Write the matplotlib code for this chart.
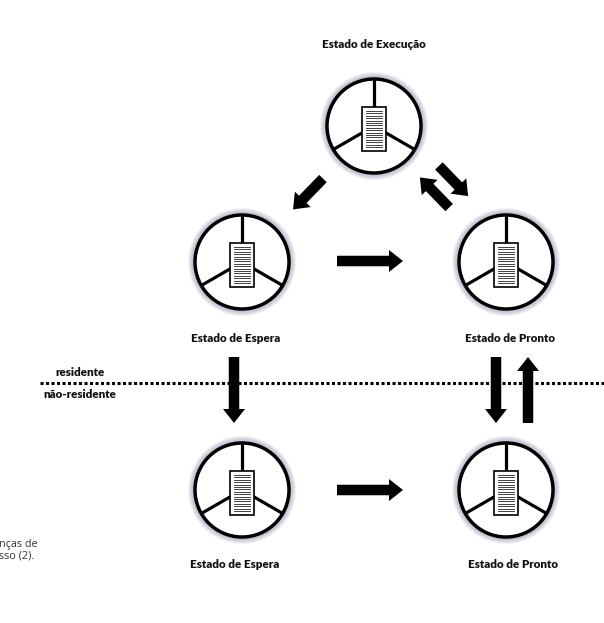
import numpy as np
import matplotlib
matplotlib.use("Agg")
import matplotlib.pyplot as plt
from matplotlib.patches import Circle, Rectangle, FancyArrow

# ---- data ----
node_labels = ["Estado de Execução", "Estado de Espera", "Estado de Pronto",
               "Estado de Espera", "Estado de Pronto"]
edges = [(0, 1), (2, 0), (0, 2), (1, 2), (1, 3), (2, 4), (4, 2), (3, 4)]
region_labels = ["residente", "não-residente"]
caption_lines = ["nças de", "sso (2)."]

# ---- layout (pixels, y down) ----
node_xy = [(374, 126), (242, 262), (506, 262), (242, 490), (506, 490)]
label_xy = [(374, 45), (236, 338), (510, 338), (235, 564), (513, 564)]
edge_len = [43, 42, 42, 66, 66, 66, 66, 66]
edge_off = [(0, 0), (-5.5, -1.5), (13.5, -13), (-4, -1), (-8, 14), (-10, 14), (22, 14), (-4, 0)]
R = 47
W, H = 604, 623

fig = plt.figure(figsize=(W / 100, H / 100), dpi=100)
ax = fig.add_axes([0, 0, 1, 1])
ax.set_xlim(0, W)
ax.set_ylim(H, 0)
ax.axis("off")

FONT = ["Lato", "DejaVu Sans"]

def draw_node(cx, cy):
    # soft lavender-grey glow
    n = 10
    for i in range(n):
        rr = R + 7 - i * 0.7
        ax.add_patch(Circle((cx, cy), rr, facecolor="#847c9e", edgecolor="none",
                            alpha=0.08, zorder=1))
    ax.add_patch(Circle((cx, cy), R, facecolor="white", edgecolor="black",
                        linewidth=2.5, zorder=2))
    # spokes
    ax.plot([cx, cx], [cy - R, cy], color="black", lw=2.3, zorder=3,
            solid_capstyle="butt")
    for ang in (30, 150):
        a = np.deg2rad(ang)
        ax.plot([cx, cx + R * np.cos(a)], [cy, cy + R * np.sin(a)], color="black",
                lw=2.3, zorder=3, solid_capstyle="butt")
    # document rectangle
    rw, rh = 24, 44
    rx, ry = cx - rw / 2, cy + 3 - rh / 2
    ax.add_patch(Rectangle((rx, ry), rw, rh, facecolor="white", edgecolor="black",
                           linewidth=1.2, zorder=4))
    ys = np.linspace(ry + 4, ry + rh - 4, 16)
    for yy in ys:
        ax.plot([rx + 4, rx + rw - 4], [yy, yy], color="#222222", lw=0.6, zorder=5)

for (cx, cy) in node_xy:
    draw_node(cx, cy)

for (lx, ly), txt in zip(label_xy, node_labels):
    ax.text(lx, ly, txt, ha="center", va="center", fontsize=8.4,
            fontweight="heavy", family=FONT, color="#111111", zorder=6)

# arrows
for (a, b), L, (ox, oy) in zip(edges, edge_len, edge_off):
    x0, y0 = node_xy[a]
    x1, y1 = node_xy[b]
    mx, my = (x0 + x1) / 2 + ox, (y0 + y1) / 2 + oy
    d = np.array([x1 - x0, y1 - y0], float)
    d /= np.linalg.norm(d)
    sx, sy = mx - d[0] * L / 2, my - d[1] * L / 2
    ax.add_patch(FancyArrow(sx, sy, d[0] * L, d[1] * L, width=10.5,
                            head_width=22, head_length=14,
                            length_includes_head=True, color="black",
                            linewidth=0, zorder=8))

# dotted separator line
ax.plot([40, W], [383, 383], color="black", lw=2.2, linestyle=(0, (1, 0.8)),
        dash_capstyle="butt", zorder=7)
ax.text(80, 372, region_labels[0], ha="center", va="center", fontsize=8.4,
        fontweight="heavy", family=FONT, color="#111111")
ax.text(80, 395, region_labels[1], ha="center", va="center", fontsize=8.4,
        fontweight="heavy", family=FONT, color="#111111")

# cropped caption at left
for i, line in enumerate(caption_lines):
    ax.text(-1, 545 + i * 11.5, line, ha="left", va="center", fontsize=7.8,
            family=["Open Sans", "DejaVu Sans"], color="#333333")

fig.savefig("out.png", dpi=100)
